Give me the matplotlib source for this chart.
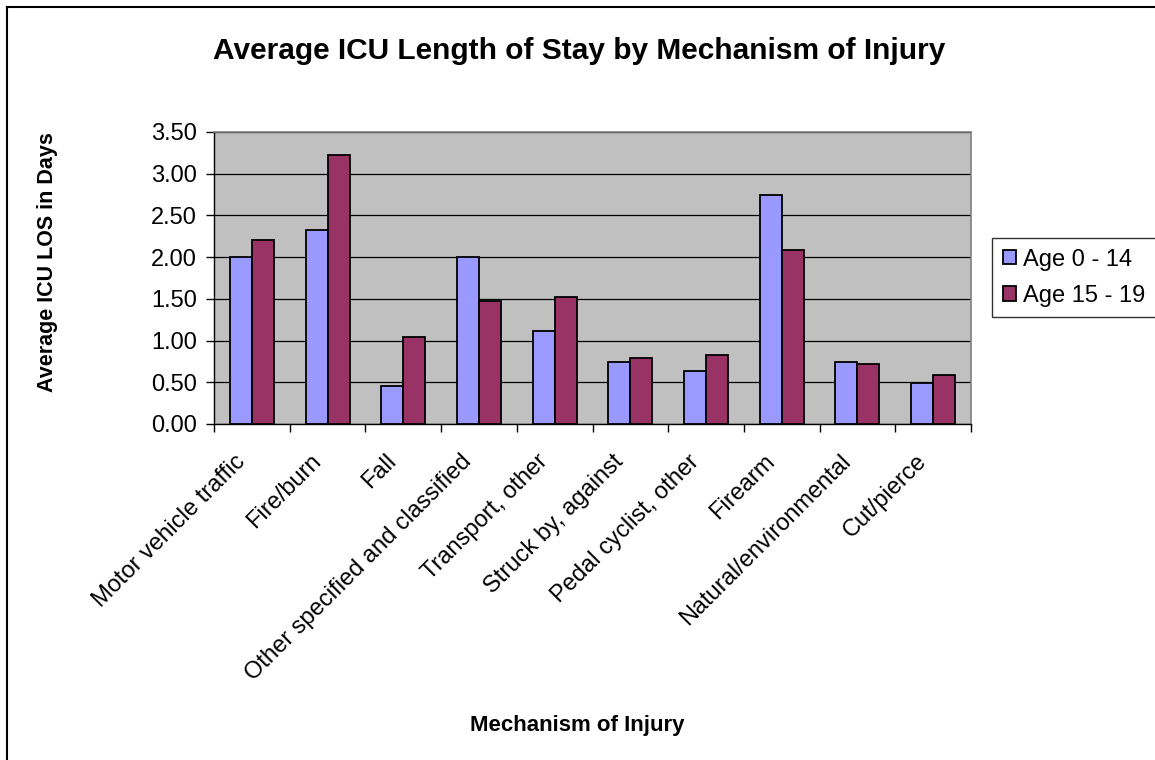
import numpy as np
import matplotlib
matplotlib.use("Agg")
import matplotlib.pyplot as plt
from matplotlib.lines import Line2D
from matplotlib.transforms import ScaledTranslation

plt.rcParams['font.family'] = ['Liberation Sans', 'DejaVu Sans']

# data
categories = ['Motor vehicle traffic', 'Fire/burn', 'Fall',
              'Other specified and classified', 'Transport, other',
              'Struck by, against', 'Pedal cyclist, other', 'Firearm',
              'Natural/environmental', 'Cut/pierce']
age_0_14 = [2.00, 2.33, 0.45, 2.00, 1.11, 0.74, 0.63, 2.74, 0.74, 0.49]
age_15_19 = [2.20, 3.22, 1.04, 1.47, 1.52, 0.79, 0.83, 2.08, 0.72, 0.59]
series_names = ['Age 0 - 14', 'Age 15 - 19']
yticks = [0.0, 0.5, 1.0, 1.5, 2.0, 2.5, 3.0, 3.5]

W, H = 1155, 760
fig = plt.figure(figsize=(W / 100, H / 100), dpi=100)
ax = fig.add_axes([214 / W, 1 - 424 / H, 757 / W, 292 / H])
ax.set_facecolor('#C0C0C0')

x = np.arange(len(categories))
bw = 0.29
b1 = ax.bar(x - bw / 2, age_0_14, bw, color='#9999FF', edgecolor='black',
            linewidth=1.3, label=series_names[0], zorder=3)
b2 = ax.bar(x + bw / 2, age_15_19, bw, color='#993366', edgecolor='black',
            linewidth=1.3, label=series_names[1], zorder=3)

ax.set_xlim(-0.5, len(categories) - 0.5)
ax.set_ylim(0, 3.5)
ax.set_yticks(yticks)
ax.set_yticklabels(['%.2f' % v for v in yticks], fontsize=17)
ax.yaxis.grid(True, color='black', linewidth=0.9, zorder=1)
ax.set_axisbelow(True)

# x ticks at category boundaries, labels at centers
ax.set_xticks(np.arange(-0.5, len(categories), 1.0))
ax.set_xticklabels([])
ax.set_xticks(x, minor=True)
ax.set_xticklabels(categories, minor=True, rotation=45, ha='right',
                   rotation_mode='anchor', fontsize=17)
ax.tick_params(axis='x', which='minor', length=0, pad=19)
ax.tick_params(axis='both', which='major', direction='out', length=5.5,
               width=1, color='black')
ax.tick_params(axis='y', pad=7)
shift = ScaledTranslation(-0.18, 0, fig.dpi_scale_trans)
for lab in ax.get_xticklabels(minor=True):
    lab.set_transform(lab.get_transform() + shift)

for s in ['top', 'right']:
    ax.spines[s].set_color('#808080')
    ax.spines[s].set_linewidth(1.2)
for s in ['left', 'bottom']:
    ax.spines[s].set_color('black')
    ax.spines[s].set_linewidth(1.0)

fig.text(579 / W, 1 - 51 / H, 'Average ICU Length of Stay by Mechanism of Injury',
         ha='center', va='center', fontsize=21.5, fontweight='bold')
fig.text(48 / W, 1 - 262 / H, 'Average ICU LOS in Days', rotation=90,
         ha='center', va='center', fontsize=15.5, fontweight='bold')
fig.text(577 / W, 1 - 725 / H, 'Mechanism of Injury',
         ha='center', va='center', fontsize=16, fontweight='bold')

leg = fig.legend(handles=[b1, b2], loc='upper left',
                 bbox_to_anchor=(992 / W, 1 - 238 / H), fontsize=17,
                 frameon=True, fancybox=False, handlelength=0.55,
                 handleheight=0.55, handletextpad=0.3, borderpad=0.45,
                 labelspacing=0.6, borderaxespad=0)
leg.get_frame().set_edgecolor('black')
leg.get_frame().set_linewidth(1.0)

# outer chart border (top and left visible)
fig.add_artist(Line2D([7 / W, 7 / W], [0, 1 - 7 / H], color='black', linewidth=1.5))
fig.add_artist(Line2D([7 / W, 1], [1 - 7 / H, 1 - 7 / H], color='black', linewidth=1.5))

fig.savefig('out.png', dpi=100)
